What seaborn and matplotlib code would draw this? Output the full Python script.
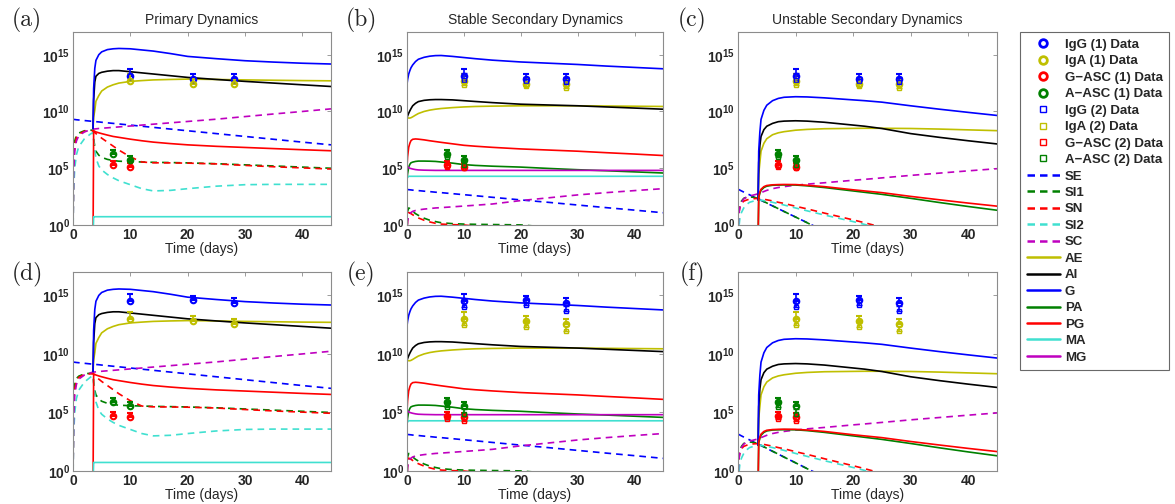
import numpy as np
import matplotlib
matplotlib.use("Agg")
import matplotlib.pyplot as plt
import seaborn as sns
from matplotlib.lines import Line2D

N = float("nan")

# ---------------- model curves (log10 values) ----------------
T_PRIM = [0, 0.1, 0.3, 0.6, 1, 2, 3, 3.5, 3.6, 3.8, 4, 4.5, 5, 6, 7, 8, 10, 12, 14, 17, 20, 25, 30, 35, 40, 45]
PRIM_SE = [9.3, 9.3, 9.29, 9.27, 9.25, 9.2, 9.15, 9.12, 9.12, 9.11, 9.1, 9.08, 9.05, 9.0, 8.95, 8.9, 8.8, 8.7, 8.6, 8.45, 8.3, 8.05, 7.8, 7.55, 7.3, 7.06]
PRIM_SI1 = [-1, 6.0, 7.4, 7.9, 8.1, 8.3, 8.35, 8.35, 7.6, 6.9, 6.5, 6.15, 5.96, 5.78, 5.68, 5.62, 5.58, 5.55, 5.52, 5.5, 5.47, 5.4, 5.3, 5.2, 5.1, 5.0]
PRIM_SN = [-1, 5.5, 7.0, 7.7, 8.0, 8.25, 8.3, 8.3, 8.25, 8.15, 8.05, 7.85, 7.65, 7.3, 6.95, 6.6, 6.0, 5.55, 5.48, 5.47, 5.45, 5.38, 5.25, 5.13, 5.03, 4.93]
PRIM_SI2 = [-1, 3.0, 5.0, 6.2, 6.9, 7.6, 8.0, 8.15, 7.5, 6.6, 5.9, 5.2, 4.85, 4.45, 4.15, 3.9, 3.55, 3.2, 3.0, 3.05, 3.2, 3.42, 3.55, 3.58, 3.58, 3.58]
PRIM_SC = [-1, 4.5, 6.5, 7.4, 7.85, 8.2, 8.38, 8.45, 8.45, 8.46, 8.47, 8.5, 8.52, 8.56, 8.6, 8.64, 8.72, 8.8, 8.88, 9.0, 9.12, 9.32, 9.55, 9.78, 10.0, 10.23]
PRIM_AE = [N, N, N, N, N, N, N, 8.5, 9.5, 10.1, 10.9, 11.4, 11.8, 12.15, 12.35, 12.5, 12.65, 12.72, 12.78, 12.82, 12.85, 12.82, 12.78, 12.75, 12.72, 12.7]
PRIM_AI = [N, N, N, N, N, N, N, 8.5, 11.0, 12.6, 13.1, 13.35, 13.45, 13.55, 13.6, 13.6, 13.5, 13.4, 13.3, 13.15, 13.0, 12.82, 12.65, 12.5, 12.35, 12.2]
PRIM_G = [N, N, N, N, N, N, N, 8.5, 12.0, 13.8, 14.5, 15.0, 15.25, 15.45, 15.52, 15.55, 15.52, 15.42, 15.32, 15.1, 14.85, 14.65, 14.47, 14.35, 14.25, 14.18]
PRIM_PG = [N, N, N, N, N, N, N, -1, 8.3, 8.25, 8.2, 8.12, 8.05, 7.92, 7.8, 7.72, 7.56, 7.42, 7.3, 7.17, 7.06, 6.93, 6.83, 6.73, 6.63, 6.54]
PRIM_MA = [N, N, N, N, N, N, N, -1, 0.73, 0.73, 0.73, 0.73, 0.73, 0.73, 0.73, 0.73, 0.73, 0.73, 0.73, 0.73, 0.73, 0.73, 0.73, 0.73, 0.73, 0.73]

T_STAB = [0, 0.1, 0.3, 0.5, 0.7, 1, 1.5, 2, 3, 4, 5, 6, 8, 10, 12, 15, 20, 25, 30, 35, 40, 45]
STAB_SE = [3.12, 3.12, 3.11, 3.1, 3.09, 3.07, 3.05, 3.03, 2.98, 2.94, 2.89, 2.85, 2.76, 2.67, 2.58, 2.44, 2.21, 1.99, 1.76, 1.53, 1.31, 1.08]
STAB_SI1 = [-1, 1.2, 1.5, 1.45, 1.35, 1.2, 1.0, 0.85, 0.6, 0.42, 0.3, 0.2, 0.12, 0.08, 0.06, 0.04, 0.01, -0.2, -0.4, -0.6, -0.8, -1.0]
STAB_SN = [-1, 0.8, 1.1, 1.05, 1.0, 0.9, 0.75, 0.62, 0.42, 0.27, 0.15, 0.08, 0.03, 0.0, -0.1, -0.3, -0.6, -0.9, -1.2, -1.5, -1.8, -2.1]
STAB_SC = [-1, 0.3, 0.85, 1.0, 1.1, 1.2, 1.28, 1.33, 1.4, 1.45, 1.5, 1.53, 1.6, 1.67, 1.74, 1.85, 2.15, 2.4, 2.65, 2.85, 3.03, 3.2]
STAB_AE = [9.47, 9.44, 9.42, 9.42, 9.45, 9.53, 9.68, 9.82, 10.0, 10.12, 10.2, 10.26, 10.34, 10.4, 10.44, 10.47, 10.5, 10.5, 10.5, 10.48, 10.46, 10.44]
STAB_AI = [9.47, 9.6, 9.85, 10.06, 10.25, 10.5, 10.72, 10.87, 10.98, 11.03, 11.05, 11.05, 11.02, 10.95, 10.88, 10.78, 10.64, 10.57, 10.5, 10.4, 10.3, 10.2]
STAB_G = [12.4, 12.8, 13.3, 13.6, 13.85, 14.1, 14.4, 14.6, 14.77, 14.87, 14.92, 14.93, 14.85, 14.75, 14.65, 14.52, 14.36, 14.25, 14.14, 14.0, 13.88, 13.76]
STAB_PA = [3.94, 4.5, 5.1, 5.35, 5.48, 5.54, 5.6, 5.63, 5.63, 5.62, 5.6, 5.55, 5.45, 5.32, 5.25, 5.18, 5.1, 4.98, 4.87, 4.78, 4.68, 4.58]
STAB_PG = [5.1, 6.0, 6.85, 7.2, 7.43, 7.55, 7.58, 7.56, 7.5, 7.42, 7.35, 7.28, 7.15, 7.02, 6.94, 6.84, 6.7, 6.6, 6.5, 6.37, 6.25, 6.12]
STAB_MA = [4.08, 4.2, 4.29, 4.29, 4.29, 4.29, 4.29, 4.29, 4.29, 4.29, 4.29, 4.29, 4.29, 4.29, 4.29, 4.29, 4.29, 4.29, 4.29, 4.29, 4.29, 4.29]
STAB_MG = [5.25, 5.15, 5.05, 5.0, 4.97, 4.93, 4.88, 4.85, 4.83, 4.82, 4.81, 4.81, 4.81, 4.81, 4.81, 4.81, 4.81, 4.81, 4.81, 4.81, 4.81, 4.81]

T_UNST = [0, 0.1, 0.3, 0.6, 1, 1.5, 2, 3, 3.5, 3.6, 3.8, 4, 4.5, 5, 6, 7, 8, 10, 12, 15, 20, 22, 25, 30, 35, 40, 45]
UNST_SE = [3.15, 3.13, 3.08, 3.0, 2.9, 2.78, 2.66, 2.41, 2.29, 2.27, 2.22, 2.17, 2.05, 1.93, 1.68, 1.44, 1.19, 0.7, 0.21, -0.53, -1.75, -2.2, -3, -4, -5, -6, -7]
UNST_SI1 = [-1, 1.0, 1.7, 2.1, 2.35, 2.45, 2.48, 2.42, 2.33, 2.3, 2.26, 2.2, 2.07, 1.94, 1.69, 1.44, 1.19, 0.7, 0.2, -0.55, -1.8, -2.3, -3, -4, -5, -6, -7]
UNST_SN = [-1, 0.8, 1.5, 1.9, 2.1, 2.2, 2.28, 2.33, 2.33, 2.33, 2.32, 2.3, 2.27, 2.22, 2.12, 2.0, 1.9, 1.65, 1.42, 1.05, 0.45, 0.2, -0.2, -0.8, -1.4, -2.0, -2.6]
UNST_SI2 = [-1, -0.5, 0.5, 1.1, 1.5, 1.8, 2.0, 2.15, 2.19, 2.19, 2.19, 2.18, 2.15, 2.1, 2.0, 1.88, 1.76, 1.5, 1.25, 0.88, 0.3, 0.05, -0.35, -1.0, -1.6, -2.2, -2.8]
UNST_SC = [-1, 0.8, 1.5, 2.0, 2.3, 2.45, 2.55, 2.68, 2.75, 2.77, 2.81, 2.85, 2.95, 3.05, 3.2, 3.3, 3.38, 3.5, 3.6, 3.72, 3.94, 4.02, 4.15, 4.37, 4.57, 4.77, 4.96]
UNST_AE = [N, N, N, N, N, N, N, N, 2.2, 4.5, 5.5, 6.5, 7.2, 7.6, 7.95, 8.12, 8.22, 8.35, 8.42, 8.48, 8.51, 8.52, 8.52, 8.5, 8.45, 8.38, 8.31]
UNST_AI = [N, N, N, N, N, N, N, N, 2.2, 5.5, 7.0, 7.8, 8.4, 8.7, 8.95, 9.1, 9.15, 9.18, 9.15, 9.05, 8.8, 8.7, 8.5, 8.05, 7.72, 7.42, 7.14]
UNST_G = [N, N, N, N, N, N, N, N, 2.2, 6.5, 8.2, 9.3, 10.1, 10.55, 10.95, 11.15, 11.25, 11.3, 11.28, 11.2, 11.02, 10.95, 10.82, 10.5, 10.2, 9.92, 9.65]
UNST_PA = [N, N, N, N, N, N, N, N, -1, 2.4, 2.8, 3.05, 3.3, 3.42, 3.5, 3.52, 3.53, 3.52, 3.45, 3.3, 3.0, 2.88, 2.7, 2.35, 1.98, 1.63, 1.3]
UNST_PG = [N, N, N, N, N, N, N, N, -1, 2.5, 2.9, 3.15, 3.38, 3.48, 3.54, 3.56, 3.57, 3.56, 3.5, 3.38, 3.1, 3.0, 2.85, 2.52, 2.22, 1.93, 1.66]

# ---------------- experimental data (log10) ----------------
DAYS_IG = [10, 21, 28]
DAYS_ASC = [7, 10]
TOP_IGG1 = [13.1, 12.9, 12.9]
TOP_IGA1 = [12.7, 12.45, 12.4]
TOP_GASC1 = [5.3, 5.15]
TOP_AASC1 = [6.25, 5.7]
TOP_IGG2 = [12.75, 12.66, 12.6]
TOP_IGA2 = [12.3, 12.2, 12.05]
TOP_GASC2 = [5.15, 5.05]
TOP_AASC2 = [5.95, 5.3]
BOT_IGG1 = [14.55, 14.57, 14.35]
BOT_IGA1 = [13.0, 12.8, 12.6]
BOT_GASC1 = [4.69, 4.63]
BOT_AASC1 = [5.9, 5.54]
BOT_IGG2 = [14.0, 14.2, 13.7]
BOT_IGA2 = [12.44, 12.3, 12.0]
BOT_GASC2 = [4.4, 4.29]
BOT_AASC2 = [5.43, 4.91]
ERR_IG = [0.6, 0.4, 0.4]       # upper error bars (decades)
ERR_ASC = [0.35, 0.35]

TITLES = ["Primary Dynamics", "Stable Secondary Dynamics", "Unstable Secondary Dynamics"]
PANEL_LABELS = ["(a)", "(b)", "(c)", "(d)", "(e)", "(f)"]
X_TICKS = [0, 10, 20, 30, 40]
Y_TICK_EXP = [0, 5, 10, 15]

C_BLUE, C_YEL, C_RED, C_GRN = "#0000FF", "#BFBF00", "#FF0000", "#008000"
C_CYAN, C_MAG, C_BLK = "#40E0D0", "#BF00BF", "#000000"

STATE_STYLE = {
    "SE": (C_BLUE, "--"), "SI1": (C_GRN, "--"), "SN": (C_RED, "--"),
    "SI2": (C_CYAN, "--"), "SC": (C_MAG, "--"), "AE": (C_YEL, "-"),
    "AI": (C_BLK, "-"), "G": (C_BLUE, "-"), "PA": (C_GRN, "-"),
    "PG": (C_RED, "-"), "MA": (C_CYAN, "-"), "MG": (C_MAG, "-"),
}

PRIM = (T_PRIM, {"SE": PRIM_SE, "SI1": PRIM_SI1, "SN": PRIM_SN, "SI2": PRIM_SI2, "SC": PRIM_SC,
                 "AE": PRIM_AE, "AI": PRIM_AI, "G": PRIM_G, "PG": PRIM_PG, "MA": PRIM_MA})
STAB = (T_STAB, {"SE": STAB_SE, "SI1": STAB_SI1, "SN": STAB_SN, "SC": STAB_SC,
                 "AE": STAB_AE, "AI": STAB_AI, "G": STAB_G, "PA": STAB_PA, "PG": STAB_PG,
                 "MA": STAB_MA, "MG": STAB_MG})
UNST = (T_UNST, {"SE": UNST_SE, "SI1": UNST_SI1, "SN": UNST_SN, "SI2": UNST_SI2, "SC": UNST_SC,
                 "AE": UNST_AE, "AI": UNST_AI, "G": UNST_G, "PA": UNST_PA, "PG": UNST_PG})

TOP_DATA = {"IgG1": TOP_IGG1, "IgA1": TOP_IGA1, "GASC1": TOP_GASC1, "AASC1": TOP_AASC1,
            "IgG2": TOP_IGG2, "IgA2": TOP_IGA2, "GASC2": TOP_GASC2, "AASC2": TOP_AASC2}
BOT_DATA = {"IgG1": BOT_IGG1, "IgA1": BOT_IGA1, "GASC1": BOT_GASC1, "AASC1": BOT_AASC1,
            "IgG2": BOT_IGG2, "IgA2": BOT_IGA2, "GASC2": BOT_GASC2, "AASC2": BOT_AASC2}

# ---------------- style ----------------
sns.set_style("white")
plt.rcParams["font.family"] = ["Liberation Sans", "DejaVu Sans"]
plt.rcParams["mathtext.fontset"] = "custom"
plt.rcParams["mathtext.rm"] = "Liberation Sans"
plt.rcParams["mathtext.bf"] = "Liberation Sans:bold"

fig = plt.figure(figsize=(11.75, 5.04), dpi=100)
W, H = 1175.0, 504.0

cols = [(73, 331), (407, 663), (738, 997)]
rows = [(32, 225), (272, 471)]

SPINE = "#8c8c8c"


def add_axes(px_l, px_r, px_t, px_b):
    return fig.add_axes([px_l / W, 1 - px_b / H, (px_r - px_l) / W, (px_b - px_t) / H])


def draw_curves(ax, model):
    t, curves = model
    for name in ["SE", "SI1", "SN", "SI2", "SC", "AE", "AI", "G", "PA", "PG", "MA", "MG"]:
        if name not in curves:
            continue
        col, ls = STATE_STYLE[name]
        y = np.power(10.0, np.array(curves[name], dtype=float))
        sns.lineplot(x=t, y=y, ax=ax, color=col, estimator=None, sort=False,
                     linewidth=1.2, linestyle=(0, (4, 3)) if ls == "--" else "-")


def draw_data(ax, data, second):
    specs = [("IgG1", C_BLUE, "o", DAYS_IG, ERR_IG), ("IgA1", C_YEL, "o", DAYS_IG, ERR_IG),
             ("GASC1", C_RED, "o", DAYS_ASC, ERR_ASC), ("AASC1", C_GRN, "o", DAYS_ASC, ERR_ASC)]
    if second:
        specs += [("IgG2", C_BLUE, "s", DAYS_IG, ERR_IG), ("IgA2", C_YEL, "s", DAYS_IG, ERR_IG),
                  ("GASC2", C_RED, "s", DAYS_ASC, ERR_ASC), ("AASC2", C_GRN, "s", DAYS_ASC, ERR_ASC)]
    for key, col, mk, days, err in specs:
        v = np.array(data[key], dtype=float)
        e = np.array(err, dtype=float)
        y = np.power(10.0, v)
        up = np.power(10.0, v + e) - y
        ax.errorbar(days, y, yerr=[np.zeros_like(y), up], fmt=mk, color=col,
                    mfc="none", mec=col, ms=4 if mk == "o" else 3.5,
                    mew=1.5 if mk == "o" else 1.0, elinewidth=1.2, capsize=2, capthick=1.2,
                    zorder=5)


models = [PRIM, STAB, UNST]
for r, (pt, pb) in enumerate(rows):
    for c, (pl, pr) in enumerate(cols):
        ax = add_axes(pl, pr, pt, pb)
        draw_curves(ax, models[c])
        draw_data(ax, TOP_DATA if r == 0 else BOT_DATA, second=(c > 0))
        ax.set_yscale("log")
        ax.set_xlim(0, 45)
        ax.set_ylim(1, 1e17)
        ax.set_xticks(X_TICKS)
        ax.set_xticklabels([str(v) for v in X_TICKS], fontweight="bold", fontsize=10)
        ax.set_yticks([10.0 ** e for e in Y_TICK_EXP])
        ax.set_yticklabels([r"$\mathbf{10^{%d}}$" % e for e in Y_TICK_EXP], fontsize=10)
        ax.minorticks_off()
        ax.tick_params(direction="in", length=3, width=0.6, color=SPINE,
                       top=True, right=True, pad=2)
        for s in ax.spines.values():
            s.set_color(SPINE)
            s.set_linewidth(0.8)
        ax.set_xlabel("Time (days)", fontsize=10, labelpad=0)
        ax.set_ylabel("")
        if r == 0:
            ax.set_title(TITLES[c], fontsize=10, pad=6)
        lab = PANEL_LABELS[r * 3 + c]
        lx = pl - 46
        ly = 20 if r == 0 else 274
        fig.text(lx / W, 1 - ly / H, lab, family="cmr10", fontsize=17,
                 ha="center", va="center")

# ---------------- legend ----------------
handles = []
labels = []
for lbl, col, mk in [("IgG (1) Data", C_BLUE, "o"), ("IgA (1) Data", C_YEL, "o"),
                     ("G\u2212ASC (1) Data", C_RED, "o"), ("A\u2212ASC (1) Data", C_GRN, "o"),
                     ("IgG (2) Data", C_BLUE, "s"), ("IgA (2) Data", C_YEL, "s"),
                     ("G\u2212ASC (2) Data", C_RED, "s"), ("A\u2212ASC (2) Data", C_GRN, "s")]:
    handles.append(Line2D([], [], linestyle="none", marker=mk, mfc="none", mec=col,
                          ms=5.5 if mk == "o" else 4.5, mew=2.0 if mk == "o" else 1.0))
    labels.append(lbl)
for name in ["SE", "SI1", "SN", "SI2", "SC", "AE", "AI", "G", "PA", "PG", "MA", "MG"]:
    col, ls = STATE_STYLE[name]
    handles.append(Line2D([], [], color=col, linewidth=1.8,
                          linestyle=(0, (3, 2)) if ls == "--" else "-"))
    labels.append(name)

leg = fig.legend(handles, labels, loc="upper left",
                 bbox_to_anchor=(1020 / W, 1 - 32 / H),
                 prop={"weight": "bold", "size": 9.5}, frameon=True, fancybox=False,
                 edgecolor="#444444", handlelength=2.5, handletextpad=0.4,
                 labelspacing=0.32, borderpad=0.5, borderaxespad=0)
leg.get_frame().set_linewidth(0.8)

fig.savefig("out.png", dpi=100)
